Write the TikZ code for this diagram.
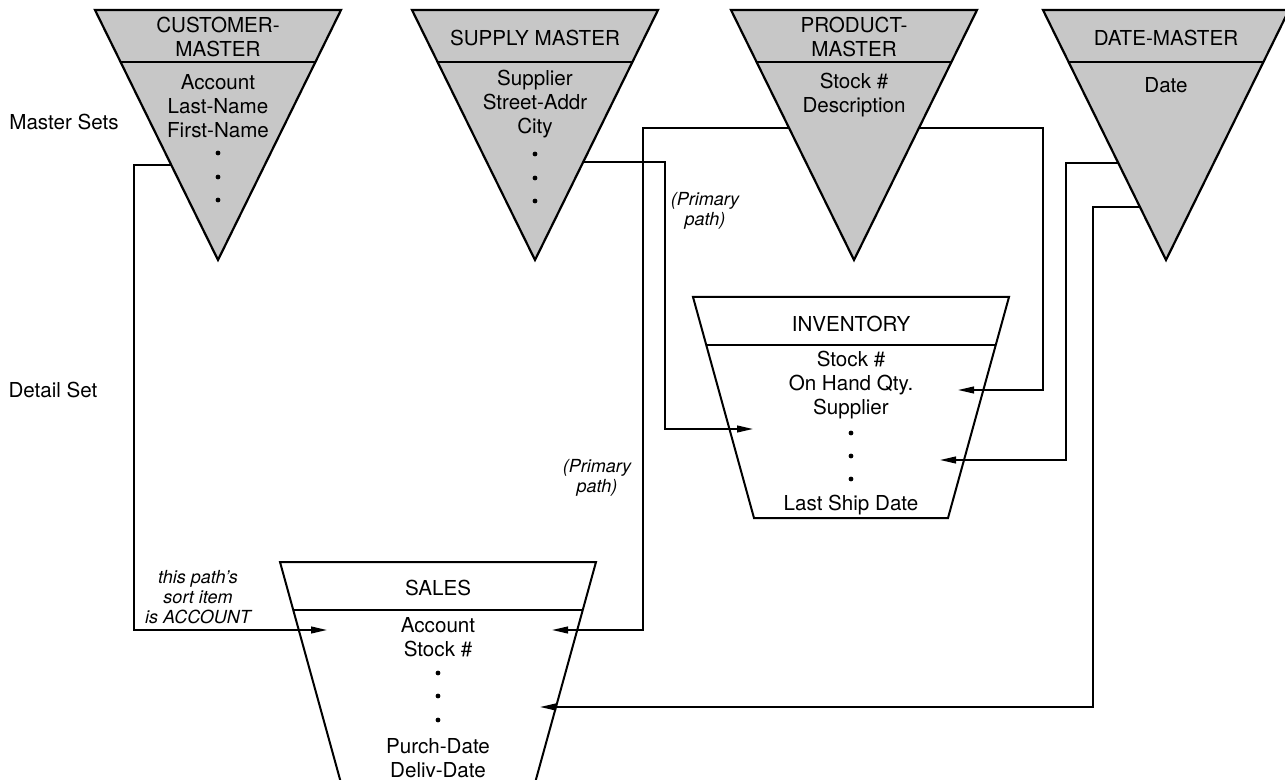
\documentclass[tikz,border=0pt]{standalone}
\usepackage{fontspec}
\setmainfont{TeX Gyre Heros}
\usetikzlibrary{calc,arrows.meta}

\begin{document}
\begin{tikzpicture}[
    x=0.5pt, y=-0.5pt,
    every node/.style={font=\fontsize{10.3}{12}\selectfont, align=center, inner sep=0pt},
    master/.style={draw, line width=1.1pt, fill=black!22},
    detail/.style={draw, line width=1pt},
    divider/.style={line width=1pt},
    note/.style={font=\fontsize{9}{10}\selectfont\itshape},
    link/.style={-{Triangle[length=8pt,width=3.4pt]}, line width=0.8pt},
    dot/.style={fill, circle, minimum size=2.4pt}
]
\useasboundingbox (0,0) rectangle (1285,780);

% master sets (inverted triangles)
\foreach \n/\cx in {cust/218, supp/535, prod/854, date/1166} {
  \draw[master] (\cx-123,10) coordinate (\n-l) -- (\cx+123,10) coordinate (\n-r)
      -- (\cx,260) coordinate (\n-a) -- cycle;
  \draw[divider] ($(\n-l)!0.208!(\n-a)$) -- ($(\n-r)!0.208!(\n-a)$);
}
\node (cust-title) at (218,37) {CUSTOMER-\\MASTER};
\node (cust-fields) at (218,106) {Account\\Last-Name\\First-Name};
\node (supp-title) at (535,38) {SUPPLY MASTER};
\node (supp-fields) at (535,104) {Supplier\\Street-Addr\\City};
\node (prod-title) at (854,37) {PRODUCT-\\MASTER};
\node (prod-fields) at (854,95) {Stock \#\\Description};
\node (date-title) at (1166,38) {DATE-MASTER};
\node (date-fields) at (1166,85) {Date};
\foreach \y in {153,177,200} {
  \node[dot] at (218,\y) {};
  \node[dot] at (535,\y+1) {};
}

% detail sets (trapezoids)
\foreach \n/\cx/\ty in {inv/851/297, sales/438/562} {
  \draw[detail] (\cx-158,\ty) -- (\cx+158,\ty) -- (\cx+97,\ty+221) -- (\cx-97,\ty+221) -- cycle;
  \draw[divider] (\cx-145,\ty+48) -- (\cx+145,\ty+48);
}
\node (inv-title) at (851,324) {INVENTORY};
\node (inv-fields) at (851,385) {Stock \#\\On Hand Qty.\\Supplier};
\node (inv-last) at (851,505) {Last Ship Date};
\node (sales-title) at (438,588) {SALES};
\node (sales-fields) at (438,637) {Account\\Stock \#};
\node (sales-dates) at (438,758) {Purch-Date\\Deliv-Date};
\foreach \y in {433,456,479} \node[dot] at (851,\y) {};
\foreach \y in {673,696,720} \node[dot] at (438,\y) {};

% labels
\node (lbl-master) at (64,122) {Master Sets};
\node (lbl-detail) at (53,390) {Detail Set};
\node[note] (primary-a) at (705,211) {(Primary\\path)};
\node[note] (primary-b) at (597,478) {(Primary\\path)};
\node[note] (sort-note) at (198,597) {this path's\\sort item\\is ACCOUNT};

% path ends
\coordinate (cust-out) at ($(cust-l)!0.62!(cust-a)$);
\coordinate (supp-out) at ($(supp-r)!0.608!(supp-a)$);
\coordinate (prod-out-l) at ($(prod-l)!0.472!(prod-a)$);
\coordinate (prod-out-r) at ($(prod-r)!0.472!(prod-a)$);
\coordinate (date-out-a) at ($(date-l)!0.612!(date-a)$);
\coordinate (date-out-b) at ($(date-l)!0.788!(date-a)$);
\coordinate (sales-in-a) at (327,630);
\coordinate (sales-in-b) at (552,630);
\coordinate (sales-in-c) at (540,707);
\coordinate (inv-in-a) at (753,429);
\coordinate (inv-in-b) at (958,390);
\coordinate (inv-in-c) at (940,460);

% paths
\draw[link] (cust-out) -| (134,630) -- (sales-in-a);
\draw[link] (supp-out) -| (665,429) -- (inv-in-a);
\draw[link] (prod-out-l) -| (643,630) -- (sales-in-b);
\draw[link] (prod-out-r) -| (1043,390) -- (inv-in-b);
\draw[link] (date-out-a) -| (1066,460) -- (inv-in-c);
\draw[link] (date-out-b) -| (1093,707) -- (sales-in-c);
\end{tikzpicture}
\end{document}
